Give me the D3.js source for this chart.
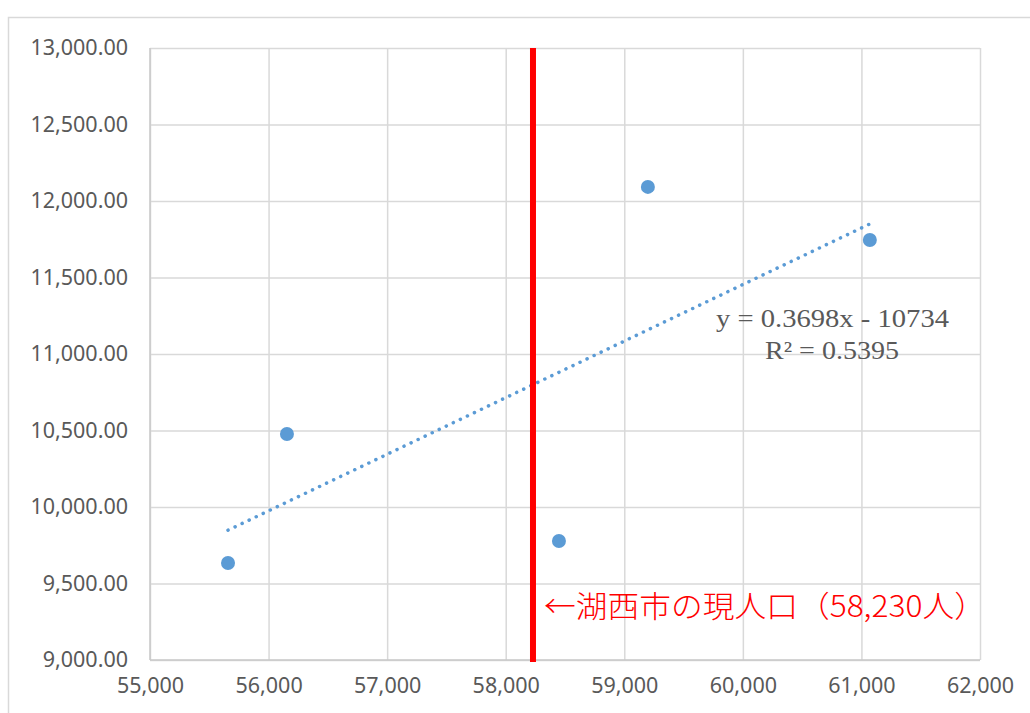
<!DOCTYPE html>
<html>
<head>
<meta charset="utf-8">
<script src="https://cdn.jsdelivr.net/npm/d3@7"></script>
<style>
  body { margin: 0; background: #fff; }
  .tick text { fill: #595959; font-family: 'Noto Sans', sans-serif; font-size: 21.5px; }
</style>
</head>
<body>
<div id="chart"></div>
<script>
// data
var population = [55658, 56155, 58449, 59199, 61071];
var values = [9634, 10477, 9778, 12092, 11745];
var xTicks = [55000, 56000, 57000, 58000, 59000, 60000, 61000, 62000];
var yTicks = [9000, 9500, 10000, 10500, 11000, 11500, 12000, 12500, 13000];
var trendSlope = 0.3698;
var trendIntercept = -10734;
var currentPop = 58230;
var eqLabel = 'y = 0.3698x - 10734';
var r2Label = 'R² = 0.5395';
var popLabel = '←湖西市の現人口（58,230人）';

var svgWidth = 1030;
var svgHeight = 713;

var margin = { top: 48, right: 50, bottom: 53, left: 150 };
var chartWidth = svgWidth - margin.left - margin.right;
var chartHeight = svgHeight - margin.top - margin.bottom;

var svg = d3.select('#chart')
  .append('svg')
  .attr('width', svgWidth)
  .attr('height', svgHeight);

// outer chart frame
svg.append('rect')
  .attr('x', 8.5)
  .attr('y', 17.5)
  .attr('width', svgWidth + 20)
  .attr('height', svgHeight + 20)
  .attr('fill', 'none')
  .attr('stroke', '#d9d9d9')
  .attr('stroke-width', 1.5);

var chartGroup = svg.append('g')
  .attr('transform', `translate(${margin.left}, ${margin.top})`);

var xScale = d3.scaleLinear()
  .domain([55000, 62000])
  .range([0, chartWidth]);

var yScale = d3.scaleLinear()
  .domain([9000, 13000])
  .range([chartHeight, 0]);

// gridlines + tick labels
var xAxis = chartGroup.append('g')
  .attr('transform', `translate(0, ${chartHeight})`)
  .call(d3.axisBottom(xScale)
    .tickValues(xTicks)
    .tickSize(-chartHeight)
    .tickPadding(18)
    .tickFormat(d3.format(',')));

var yAxis = chartGroup.append('g')
  .call(d3.axisLeft(yScale)
    .tickValues(yTicks)
    .tickSize(-chartWidth)
    .tickPadding(22)
    .tickFormat(d3.format(',.2f')));

[xAxis, yAxis].forEach(function(ax) {
  ax.select('.domain').remove();
  ax.selectAll('.tick line')
    .attr('stroke', '#d9d9d9')
    .attr('stroke-width', 1.5);
});

// axis lines
chartGroup.append('line')
  .attr('x1', 0).attr('x2', 0)
  .attr('y1', 0).attr('y2', chartHeight)
  .attr('stroke', '#c8c8c8')
  .attr('stroke-width', 1.5);
chartGroup.append('line')
  .attr('x1', 0).attr('x2', chartWidth)
  .attr('y1', chartHeight).attr('y2', chartHeight)
  .attr('stroke', '#c8c8c8')
  .attr('stroke-width', 1.5);

// trendline over the data range
var xExtent = d3.extent(population);
var trend = xExtent.map(function(x) { return [x, trendSlope * x + trendIntercept]; });

chartGroup.append('path')
  .datum(trend)
  .attr('d', d3.line()
    .x(d => xScale(d[0]))
    .y(d => yScale(d[1])))
  .attr('fill', 'none')
  .attr('stroke', '#5b9bd5')
  .attr('stroke-width', 3.5)
  .attr('stroke-linecap', 'round')
  .attr('stroke-dasharray', '0.1 7.7');

// data points
chartGroup.selectAll('circle')
  .data(population)
  .enter()
  .append('circle')
  .attr('cx', d => xScale(d))
  .attr('cy', (d, i) => yScale(values[i]))
  .attr('r', 7)
  .attr('fill', '#5b9bd5');

// current population marker
chartGroup.append('line')
  .attr('x1', xScale(currentPop)).attr('x2', xScale(currentPop))
  .attr('y1', 0).attr('y2', chartHeight + 2)
  .attr('stroke', '#ff0000')
  .attr('stroke-width', 6);

chartGroup.append('text')
  .attr('x', xScale(currentPop) + 11)
  .attr('y', 569)
  .attr('fill', '#ff0000')
  .attr('font-family', "'Noto Sans CJK JP', sans-serif")
  .attr('font-weight', 300)
  .attr('font-size', '30px')
  .attr('textLength', 442)
  .attr('lengthAdjust', 'spacingAndGlyphs')
  .text(popLabel);

// regression label
chartGroup.append('text')
  .attr('x', 566)
  .attr('y', 279)
  .attr('fill', '#595959')
  .attr('font-family', "'Liberation Serif', serif")
  .attr('font-size', '25px')
  .attr('textLength', 233)
  .attr('lengthAdjust', 'spacingAndGlyphs')
  .text(eqLabel);

chartGroup.append('text')
  .attr('x', 615)
  .attr('y', 311)
  .attr('fill', '#595959')
  .attr('font-family', "'Liberation Serif', serif")
  .attr('font-size', '25px')
  .attr('textLength', 134)
  .attr('lengthAdjust', 'spacingAndGlyphs')
  .text(r2Label);
</script>
</body>
</html>
